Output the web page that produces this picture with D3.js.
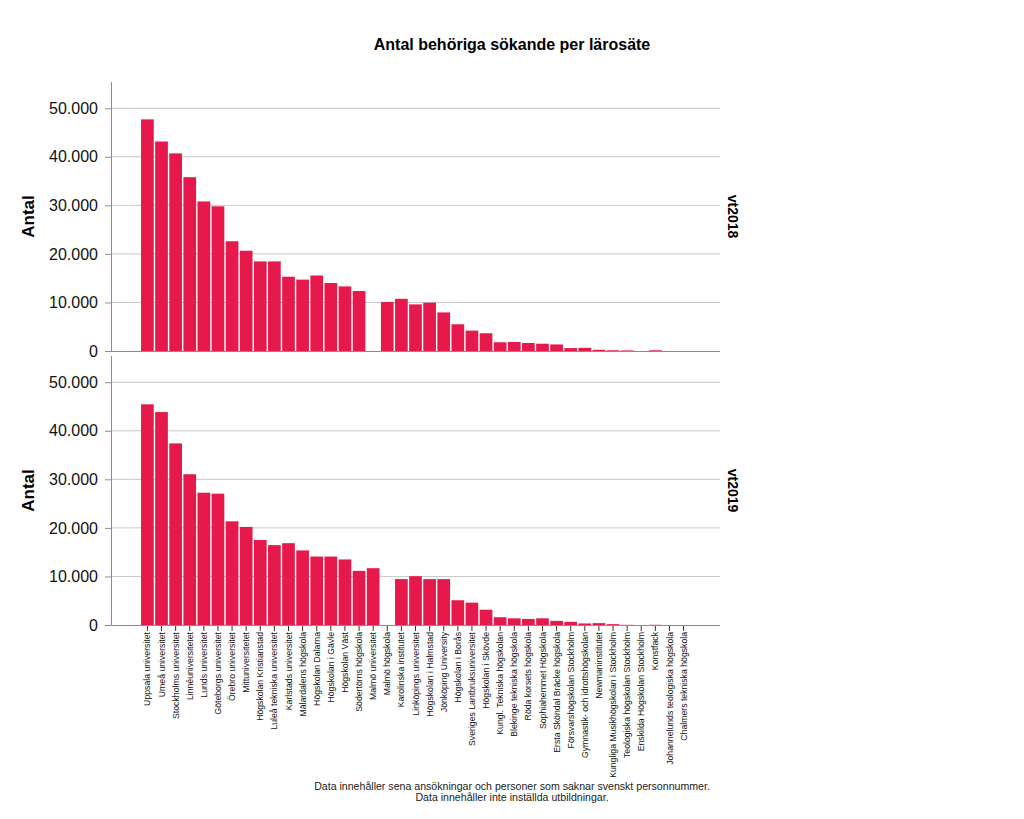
<!DOCTYPE html>
<html><head><meta charset="utf-8">
<script src="https://cdn.jsdelivr.net/npm/d3@7"></script>
<style>body{margin:0;background:#fff}svg{font-family:"Liberation Sans",Arial,sans-serif}</style>
</head><body><svg id="c" width="1024" height="819"></svg>
<script>
const categories = ["Uppsala universitet","Umeå universitet","Stockholms universitet","Linnéuniversitetet","Lunds universitet","Göteborgs universitet","Örebro universitet","Mittuniversitetet","Högskolan Kristianstad","Luleå tekniska universitet","Karlstads universitet","Mälardalens högskola","Högskolan Dalarna","Högskolan i Gävle","Högskolan Väst","Södertörns högskola","Malmö universitet","Malmö högskola","Karolinska institutet","Linköpings universitet","Högskolan i Halmstad","Jönköping University","Högskolan i Borås","Sveriges Lantbruksuniversitet","Högskolan i Skövde","Kungl. Tekniska högskolan","Blekinge tekniska högskola","Röda korsets högskola","Sophiahemmet Högskola","Ersta Sköndal Bräcke högskola","Försvarshögskolan Stockholm","Gymnastik- och idrottshögskolan","Newmaninstitutet","Kungliga Musikhögskolan i Stockholm","Teologiska högskolan Stockholm","Enskilda Högskolan Stockholm","Konstfack","Johannelunds teologiska högskola","Chalmers tekniska högskola"];
const vt2018 = [47700,43150,40700,35800,30800,29800,22600,20650,18450,18450,15300,14700,15550,14000,13300,12350,0,10100,10750,9600,9950,7950,5500,4200,3650,1800,1850,1650,1500,1350,600,650,250,150,120,0,150,0,0];
const vt2019 = [45450,43850,37400,31050,27250,27050,21350,20200,17500,16450,16850,15350,14100,14100,13500,11150,11700,0,9450,10050,9450,9450,5100,4600,3150,1600,1380,1250,1380,850,650,320,380,180,40,0,40,0,0];
const yTicks = [0,10000,20000,30000,40000,50000];
const panels = [{label:"vt2018", values:vt2018},{label:"vt2019", values:vt2019}];
const title = "Antal behöriga sökande per lärosäte";
const yTitle = "Antal";
const notes = ["Data innehåller sena ansökningar och personer som saknar svenskt personnummer.","Data innehåller inte inställda utbildningar."];

const svg = d3.select("#c");
const left = 111, right = 720;
const panelBox = [{top:82, bottom:351},{top:356, bottom:625}];
const fmt = v => v === 0 ? "0" : d3.format(",")(v).replace(/,/g, ".");
const barColor = "#e5194b";

const x = d3.scaleBand().domain(categories).range([left, right]).paddingInner(0.1).paddingOuter(2.13);

svg.append("text").attr("x", 512).attr("y", 50).attr("text-anchor","middle")
  .attr("font-size", 16).attr("font-weight","bold").text(title);

panels.forEach((p, i) => {
  const box = panelBox[i];
  const y = d3.scaleLinear().domain([0, 55400]).range([box.bottom, box.top]);
  const g = svg.append("g");
  g.selectAll("line.grid").data(yTicks.filter(d => d > 0)).join("line")
    .attr("x1", left).attr("x2", right).attr("y1", d => y(d)).attr("y2", d => y(d))
    .attr("stroke", "#c8c8c8").attr("stroke-width", 1);
  g.selectAll("rect").data(categories.map((c, k) => ({c, v: p.values[k]})).filter(d => d.v > 0)).join("rect")
    .attr("x", d => x(d.c)).attr("width", x.bandwidth())
    .attr("y", d => y(d.v)).attr("height", d => y(0) - y(d.v))
    .attr("fill", barColor);
  g.append("line").attr("x1", left).attr("x2", right).attr("y1", y(0)+0.5).attr("y2", y(0)+0.5)
    .attr("stroke", "#8c8c8c");
  const ya = g.append("g").attr("transform", `translate(${left},0)`)
    .call(d3.axisLeft(y).tickValues(yTicks).tickFormat(fmt).tickSize(6).tickPadding(7));
  ya.select(".domain").attr("stroke", "#8c8c8c").attr("d", `M0.5,${box.top}V${box.bottom+1}`);
  ya.selectAll(".tick line").attr("stroke", "#8c8c8c");
  ya.selectAll(".tick text").attr("font-size", 16).attr("fill", "#111").attr("font-family", "Liberation Sans, Arial, sans-serif");
  g.append("text").attr("transform", `translate(34,${(box.top+box.bottom)/2}) rotate(-90)`)
    .attr("text-anchor","middle").attr("font-size", 17).attr("font-weight","bold").text(yTitle);
  g.append("text").attr("transform", `translate(728,${(box.top+box.bottom)/2}) rotate(90)`)
    .attr("text-anchor","middle").attr("font-size", 14).attr("font-weight","bold").text(p.label);
  if (i === 1) {
    const xa = g.append("g").attr("transform", `translate(0,${box.bottom+1})`)
      .call(d3.axisBottom(x).tickSize(5).tickPadding(3));
    xa.select(".domain").remove();
    xa.selectAll(".tick line").attr("stroke", "#333");
    xa.selectAll(".tick text").attr("font-size", 8.7).attr("fill", "#111")
      .attr("font-family", "Liberation Sans, Arial, sans-serif")
      .attr("text-anchor", "end").attr("dy", "0.35em")
      .attr("transform", "translate(0,6) rotate(-90)").attr("x", 0).attr("y", 0);
  }
});

svg.append("g").selectAll("text").data(notes).join("text")
  .attr("x", 512).attr("y", (d, k) => 790 + k * 11).attr("text-anchor","middle")
  .attr("font-size", 10.6).attr("fill", "#222").text(d => d);
</script></body></html>
